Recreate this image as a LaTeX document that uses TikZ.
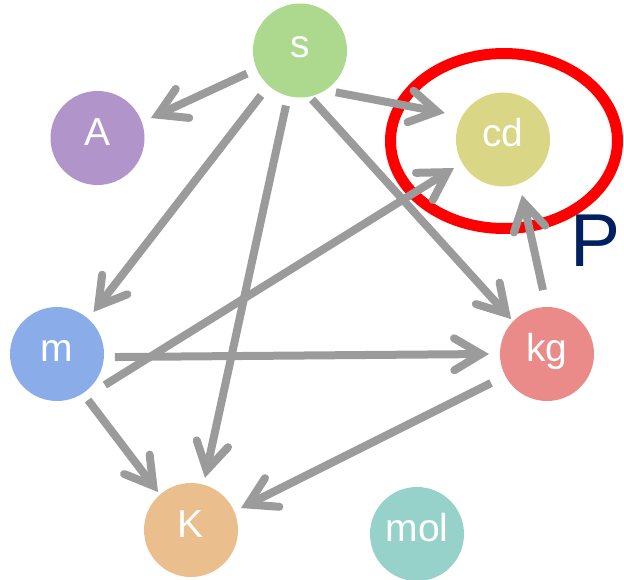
\documentclass[tikz,border=0pt]{standalone}
\usepackage{fontspec}
\setmainfont{Liberation Sans}
\usetikzlibrary{arrows.meta,calc}
\definecolor{cS}{HTML}{ACD98E}
\definecolor{cA}{HTML}{B094CA}
\definecolor{cCD}{HTML}{D9D685}
\definecolor{cM}{HTML}{8AADEA}
\definecolor{cKG}{HTML}{EA8B8A}
\definecolor{cK}{HTML}{EBBE8E}
\definecolor{cMOL}{HTML}{96D2CA}
\definecolor{arrowgray}{HTML}{9B9B9B}
\definecolor{navy}{HTML}{002060}
\begin{document}
\begin{tikzpicture}[x=1pt,y=1pt,
  dimnode/.style={circle, fill=#1, minimum size=94pt, inner sep=0pt, outer sep=0pt,
    text=white, font=\fontsize{39}{39}\selectfont, text height=22pt, text depth=7pt},
  arr/.style={draw=arrowgray, line width=8pt,
    -{Straight Barb[length=27pt,width=32pt,line cap=round,line join=miter]}},
  ring/.style={draw=red, line width=11pt}]
\useasboundingbox (0,0) rectangle (624,-580);

\draw[ring] (504,-141) ellipse [x radius=113.5, y radius=87.5];

\node[dimnode=cS]   (s)   at (300,-50.5) {s};
\node[dimnode=cA]   (A)   at (97.5,-138) {A};
\node[dimnode=cCD]  (cd)  at (503,-139.5) {cd};
\node[dimnode=cM]   (m)   at (57,-354) {m};
\node[dimnode=cKG]  (kg)  at (547,-354) {kg};
\node[dimnode=cK]   (K)   at (191,-530) {K};
\node[dimnode=cMOL] (mol) at (417,-534) {mol};

\node[font=\fontsize{75}{75}\selectfont, text=navy, anchor=base west, inner sep=0pt] (P) at (570,-267) {P};

\draw[arr] ($(s)+(-156.5:57.8pt)$) -- ($(A)+(20.5:57pt)$);
\draw[arr] ($(s)+(-49.4:55pt)$) -- ($(cd)+(155.5:64pt)$);
\draw[arr] ($(s)+(-130.9:59.5pt)$) -- ($(m)+(49:55.6pt)$);
\draw[arr] ($(s)+(-104.3:56.8pt)$) -- ($(K)+(75:54pt)$);
\draw[arr] ($(s)+(-76.2:50.4pt)$) -- ($(kg)+(135.8:50pt)$);
\draw[arr] ($(m)+(-32.9:57pt)$) -- ($(cd)+(210.2:56.7pt)$);
\draw[arr] ($(m)+(-3:58pt)$) -- ($(kg)+(180:58pt)$);
\draw[arr] ($(m)+(-56:55.5pt)$) -- ($(K)+(131:50.3pt)$);
\draw[arr] ($(kg)+(207.4:63pt)$) -- ($(K)+(23.7:54.6pt)$);
\draw[arr] ($(kg)+(93.6:64pt)$) -- ($(cd)+(-71.1:58.7pt)$);
\end{tikzpicture}
\end{document}
